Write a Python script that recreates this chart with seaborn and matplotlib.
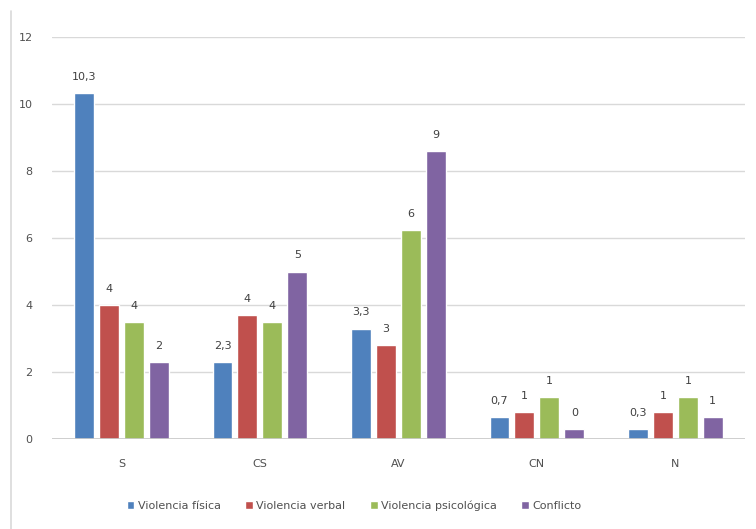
import pandas as pd
import seaborn as sns
import matplotlib.pyplot as plt
from matplotlib.lines import Line2D

# datos
categorias = ["S", "CS", "AV", "CN", "N"]
series = ["Violencia física", "Violencia verbal", "Violencia psicológica", "Conflicto"]
fisica = [10.33, 2.3, 3.3, 0.66, 0.3]
verbal = [4.0, 3.7, 2.8, 0.8, 0.8]
psicologica = [3.5, 3.5, 6.25, 1.25, 1.25]
conflicto = [2.3, 5.0, 8.6, 0.3, 0.66]
etiquetas = {
    "Violencia física": ["10,3", "2,3", "3,3", "0,7", "0,3"],
    "Violencia verbal": ["4", "4", "3", "1", "1"],
    "Violencia psicológica": ["4", "4", "6", "1", "1"],
    "Conflicto": ["2", "5", "9", "0", "1"],
}
colores = ["#4F81BD", "#C0504D", "#9BBB59", "#8064A2"]

df = pd.DataFrame({"cat": categorias, series[0]: fisica, series[1]: verbal,
                   series[2]: psicologica, series[3]: conflicto})
dfm = df.melt("cat", var_name="serie", value_name="valor")

sns.set_theme(style="white")
plt.rcParams['font.family'] = ['DejaVu Sans']

fig = plt.figure(figsize=(7.56, 5.29), dpi=100)
ax = fig.add_axes([0.069, 0.170, 0.916, 0.760])

sns.barplot(data=dfm, x="cat", y="valor", hue="serie", palette=colores,
            saturation=1, width=0.72, gap=0.2, ax=ax, legend=True)

for cont, s in zip(ax.containers, series):
    ax.bar_label(cont, labels=etiquetas[s], padding=8, fontsize=8, color="#404040")

ax.set_ylim(0, 12)
ax.set_yticks(range(0, 13, 2))
ax.set_xlim(-0.5, 4.5)
ax.yaxis.grid(True, color="#D9D9D9", linewidth=1)
ax.set_axisbelow(True)
for sp in ax.spines.values():
    sp.set_visible(False)
ax.axhline(0, color="#C8C8C8", linewidth=1.2)
ax.set_xlabel("")
ax.set_ylabel("")
ax.tick_params(axis="both", length=0, labelsize=8, labelcolor="#505050")
ax.tick_params(axis="y", pad=14)
ax.tick_params(axis="x", pad=14)

ax.legend(loc="upper center", bbox_to_anchor=(0.436, -0.127), ncol=4, frameon=False,
          fontsize=8, labelcolor="#505050", handlelength=0.7, handleheight=0.7,
          handletextpad=0.3, columnspacing=2.2)

# borde izquierdo del gráfico
fig.add_artist(Line2D([0.0146, 0.0146], [0.0, 0.98], color="#D9D9D9", linewidth=1.2))

plt.savefig("out.png", dpi=100)
plt.close()
